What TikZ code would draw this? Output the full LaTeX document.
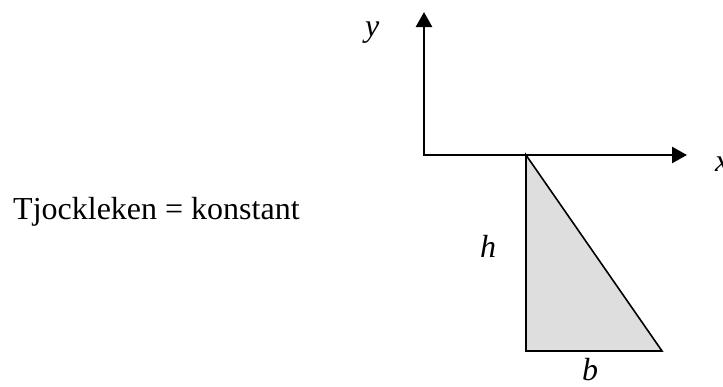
\documentclass[tikz,border=0pt]{standalone}
\usepackage{fontspec}
\setmainfont{Liberation Serif}
\usetikzlibrary{arrows.meta}

\begin{document}
\begin{tikzpicture}[
  x=1pt, y=-1pt,
    font=\fontsize{32}{38}\selectfont,
    axis/.style={line width=2.6pt, line join=miter, {Triangle[length=15pt,width=16pt]}-{Triangle[length=15pt,width=16pt]}},
    section/.style={draw, line width=1.6pt, fill=black!13, line join=miter},
    lbl/.style={anchor=base west, inner sep=0pt}
]
\useasboundingbox (0,0) rectangle (723,386);

% Coordinates
\coordinate (O) at (424,155);
\coordinate (Ytip) at (424,12);
\coordinate (Xtip) at (687,155);
\coordinate (A) at (526,155);
\coordinate (B) at (526,351);
\coordinate (C) at (662,351);

% Cross section
\draw[section] (A) -- (B) -- (C) -- cycle;

% Axes
\draw[axis] (Ytip) -- (O) -- (Xtip);

% Labels
\node[lbl] (ylab) at (365,36) {\textit{y}};
\node[lbl] (xlab) at (715,171) {\textit{x}};
\node[lbl] (hlab) at (480,257) {\textit{h}};
\node[lbl] (blab) at (582,380) {\textit{b}};
\node[lbl] (tjock) at (13,219) {Tjockleken = konstant};

\end{tikzpicture}
\end{document}
